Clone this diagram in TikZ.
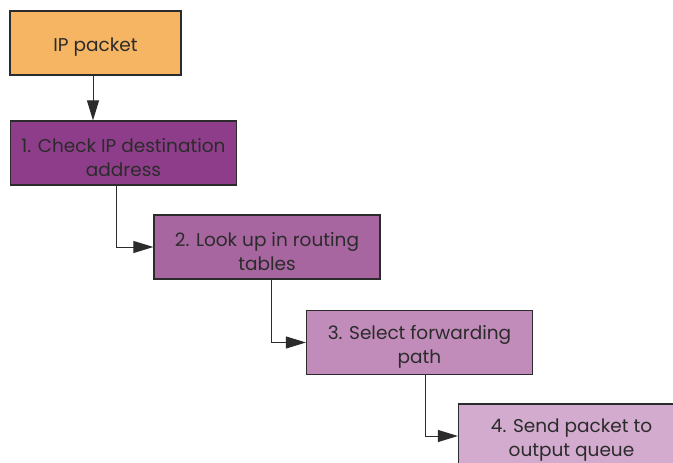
\documentclass[tikz,border=0pt]{standalone}
\usepackage{fontspec}
\setmainfont{Poppins}
\usetikzlibrary{arrows.meta}
\definecolor{inputfill}{HTML}{F5B563}
\definecolor{stepA}{HTML}{8E3D8A}
\definecolor{stepB}{HTML}{A866A0}
\definecolor{stepC}{HTML}{C18BBA}
\definecolor{stepD}{HTML}{D3ABCF}
\definecolor{ink}{HTML}{2B2B2B}
\tikzset{
  box/.style={draw=ink, line width=1.2pt, minimum width=226pt, minimum height=64pt, inner sep=0pt},
  caption/.style={align=center, text=ink, font=\fontsize{18.5}{24}\selectfont, inner sep=0pt, yshift=-4.5pt},
  link/.style={draw=ink, line width=1pt, -{Triangle[length=20pt,width=12pt]}}
}
\begin{document}
\begin{tikzpicture}[x=1pt,y=-1pt]
  \useasboundingbox (0,0) rectangle (673,463);
  \begin{scope}
    \clip (0,0) rectangle (673,463);
    \node[box, fill=inputfill, minimum width=171pt] (ip) at (95.5,43) {};
    \node[box, fill=stepA] (s1) at (123.5,153) {};
    \node[box, fill=stepB] (s2) at (267,247) {};
    \node[box, fill=stepC] (s3) at (419.5,342.5) {};
    \node[box, fill=stepD] (s4) at (571.5,436) {};
    \node[caption] (ipt) at (ip.center) {IP packet};
    \node[caption] (s1t) at (s1.center) {1. Check IP destination\\address};
    \node[caption] (s2t) at (s2.center) {2. Look up in routing\\tables};
    \node[caption] (s3t) at (s3.center) {3. Select forwarding\\path};
    \node[caption] (s4t) at (s4.center) {4. Send packet to\\output queue};
  \end{scope}
  \draw[link] (ip.south -| 93,0) -- (s1.north -| 93,0);
  \draw[link] (s1.south -| 116,0) |- (s2.west);
  \draw[link] (s2.south -| 271,0) |- (s3.west);
  \draw[link] (s3.south -| 425,0) |- (s4.west);
\end{tikzpicture}
\end{document}
